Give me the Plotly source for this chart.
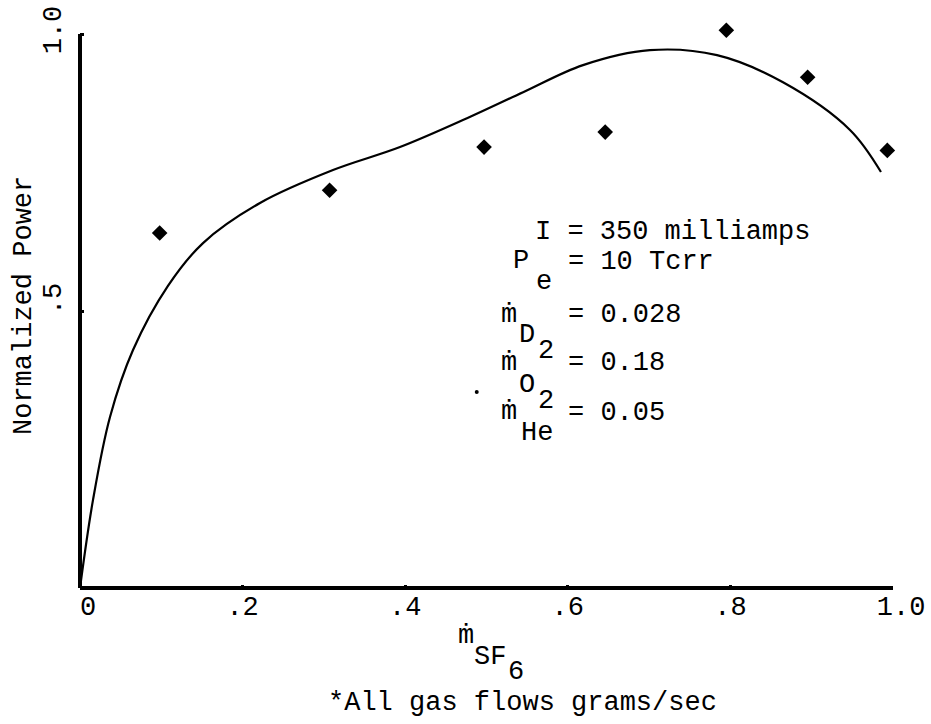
import plotly.graph_objects as go

# Measured points (normalized power vs SF6 flow)
pts_x = [0.098, 0.307, 0.497, 0.646, 0.795, 0.895, 0.993]
pts_y = [0.641, 0.718, 0.796, 0.823, 1.007, 0.922, 0.790]

# Hand-drawn fit curve
curve_x = [0.0, 0.016, 0.0369, 0.0652, 0.108, 0.1513, 0.2214, 0.3112, 0.3936, 0.476,
           0.545, 0.6187, 0.701, 0.7835, 0.8647, 0.9471, 0.9852]
curve_y = [0.0, 0.159, 0.3087, 0.4296, 0.545, 0.6227, 0.695, 0.7545, 0.796, 0.848,
           0.895, 0.944, 0.971, 0.962, 0.913, 0.827, 0.751]

# Stray mark in the scan
stray_x = [0.488]
stray_y = [0.354]

x_tickvals = [0, 0.2, 0.4, 0.6, 0.8, 1.0]
x_ticktext = [" 0", ".2", ".4", ".6", ".8", " 1.0"]
y_tickvals = [0.5, 1.0]
y_ticktext = [" .5", "1.0"]

X_RANGE = [0, 1.0]
Y_RANGE = [0, 1.02]

FONT = "Liberation Mono, DejaVu Sans Mono, monospace"
FS = 27
W_, H_ = 931, 724
L, R, T, B = 80, 38, 23, 136
PW, PH = W_ - L - R, H_ - T - B


def px(x):
    return (x - L) / PW


def py(y):
    return 1 - (y - T) / PH


fig = go.Figure()
fig.add_trace(go.Scatter(x=curve_x, y=curve_y, mode="lines",
                         line=dict(color="black", width=2.2, shape="spline", smoothing=1.0),
                         cliponaxis=False, hoverinfo="skip"))
fig.add_trace(go.Scatter(x=pts_x, y=pts_y, mode="markers",
                         marker=dict(symbol="diamond", size=12, color="black"),
                         cliponaxis=False))
fig.add_trace(go.Scatter(x=stray_x, y=stray_y, mode="markers",
                         marker=dict(symbol="circle", size=4, color="black"),
                         cliponaxis=False, hoverinfo="skip"))

# Axis frame lines (paper-referenced so they are not clipped at the plot edge)
y_top = (y_tickvals[-1] - Y_RANGE[0]) / (Y_RANGE[1] - Y_RANGE[0])
fig.add_shape(type="line", xref="paper", yref="paper", x0=0, y0=0, x1=1, y1=0,
              line=dict(color="black", width=4), layer="above")
fig.add_shape(type="line", xref="paper", yref="paper", x0=0, y0=0, x1=0, y1=y_top,
              line=dict(color="black", width=4), layer="above")

ann = []


def txt(s, x, y, size=FS, anchor="left", angle=0):
    ann.append(dict(text=s, x=px(x), y=py(y), xref="paper", yref="paper",
                    xanchor=anchor, yanchor="middle", showarrow=False,
                    textangle=angle, font=dict(family=FONT, size=size, color="black")))


# Conditions block
txt("I = 350 milliamps", 533, 232)
txt("P", 511, 261)
txt("e", 534, 282)
txt("= 10 Tcrr", 566, 262)
txt("ṁ", 499, 315)
txt("D", 517, 335)
txt("2", 536, 351)
txt("= 0.028", 566, 315)
txt("ṁ", 499, 363)
txt("O", 517, 385)
txt("2", 536, 401)
txt("= 0.18", 566, 363)
txt("ṁ", 499, 412)
txt("He", 519, 433)
txt("= 0.05", 566, 413)

# X title
txt("ṁ", 456, 636)
txt("SF", 472, 657)
txt("6", 506, 672)
txt("*All gas flows grams/sec", 326, 703)

# Y title
txt("Normalized Power", 24, 306, anchor="center", angle=-90)

fig.update_layout(
    width=W_, height=H_,
    margin=dict(l=L, r=R, t=T, b=B, pad=0, autoexpand=False),
    paper_bgcolor="white", plot_bgcolor="white",
    showlegend=False,
    annotations=ann,
    font=dict(family=FONT, size=FS, color="black"),
    xaxis=dict(range=X_RANGE, tickvals=x_tickvals, ticktext=x_ticktext,
               showgrid=False, zeroline=False, showline=False, automargin=False,
               ticks="inside", ticklen=3, tickwidth=3, tickcolor="black",
               ticklabelstandoff=-1,
               tickfont=dict(family=FONT, size=FS, color="black")),
    yaxis=dict(range=Y_RANGE, tickvals=y_tickvals, ticktext=y_ticktext,
               showgrid=False, zeroline=False, showline=False, automargin=False,
               ticks="inside", ticklen=4, tickwidth=3, tickcolor="black",
               tickangle=-90, ticklabelstandoff=13,
               tickfont=dict(family=FONT, size=FS, color="black")),
)

fig.write_html("out.html")
